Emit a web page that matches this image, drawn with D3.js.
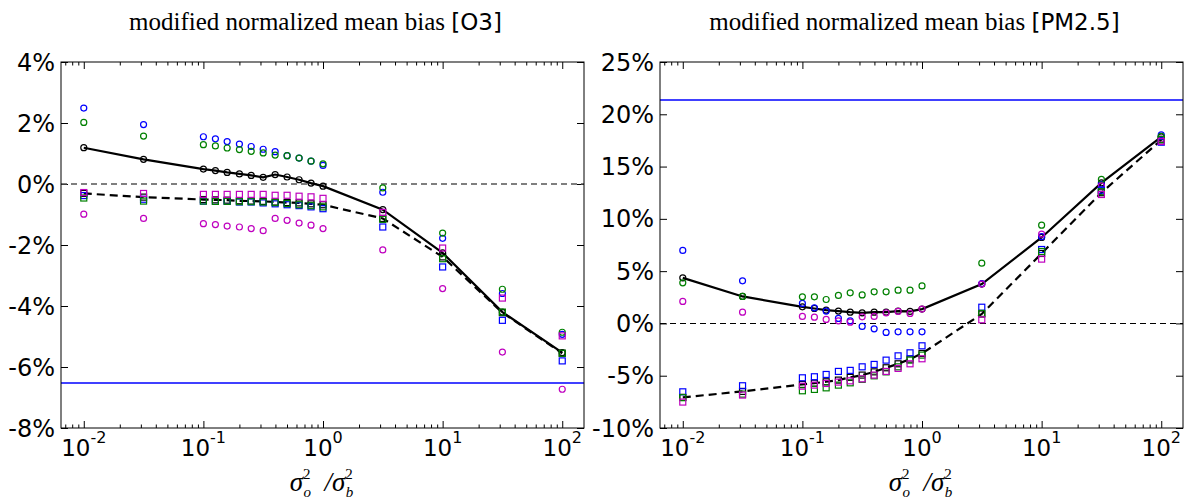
<!DOCTYPE html>
<html>
<head>
<meta charset="utf-8">
<script src="https://cdn.jsdelivr.net/npm/d3@7"></script>
<style>
  body { margin: 0; background: #fff; }
</style>
</head>
<body>
<svg id="chart" width="1185" height="501"></svg>
<script>
// sigma_o^2 / sigma_b^2, shared by every series
const RATIO = [0.01, 0.0316, 0.1, 0.126, 0.158, 0.2, 0.251, 0.316, 0.398, 0.501, 0.631, 0.794, 1, 3.16, 10, 31.6, 100];
const X_TICKS = [0.01, 0.1, 1, 10, 100];
const X_TICK_EXP = ['-2', '-1', '0', '1', '2'];

// O3 panel, values in %
const O3_Y_TICKS = [4, 2, 0, -2, -4, -6, -8];
const O3_MEAN_CIRCLE = [1.19, 0.81, 0.49, 0.44, 0.38, 0.33, 0.28, 0.22, 0.31, 0.23, 0.14, 0.03, -0.07, -0.84, -2.26, -4.20, -5.53];
const O3_MEAN_SQUARE = [-0.31, -0.43, -0.51, -0.52, -0.53, -0.55, -0.56, -0.57, -0.59, -0.61, -0.62, -0.65, -0.68, -1.13, -2.39, -4.22, -5.55];
const O3_BLUE_CIRCLE = [2.49, 1.95, 1.55, 1.48, 1.39, 1.31, 1.23, 1.14, 1.06, 0.93, 0.85, 0.75, 0.61, -0.27, -1.78, -3.59, -4.93];
const O3_GREEN_CIRCLE = [2.02, 1.57, 1.29, 1.25, 1.18, 1.13, 1.07, 1.02, 0.95, 0.93, 0.85, 0.75, 0.66, -0.13, -1.61, -3.45, -4.86];
const O3_MAGENTA_CIRCLE = [-0.99, -1.13, -1.30, -1.33, -1.38, -1.41, -1.46, -1.53, -1.13, -1.19, -1.28, -1.35, -1.46, -2.16, -3.43, -5.51, -6.73];
const O3_BLUE_SQUARE = [-0.38, -0.50, -0.56, -0.57, -0.57, -0.59, -0.59, -0.62, -0.65, -0.68, -0.71, -0.75, -0.81, -1.41, -2.72, -4.47, -5.80];
const O3_GREEN_SQUARE = [-0.46, -0.56, -0.56, -0.57, -0.57, -0.58, -0.58, -0.59, -0.61, -0.64, -0.68, -0.71, -0.75, -1.16, -2.45, -4.20, -5.55];
const O3_MAGENTA_SQUARE = [-0.28, -0.31, -0.34, -0.34, -0.34, -0.34, -0.34, -0.34, -0.37, -0.37, -0.40, -0.42, -0.47, -0.93, -2.10, -3.74, -4.98];
const O3_REF = -6.54;

// PM2.5 panel, values in %
const PM_Y_TICKS = [25, 20, 15, 10, 5, 0, -5, -10];
const PM_MEAN_CIRCLE = [4.36, 2.58, 1.59, 1.43, 1.27, 1.18, 1.08, 1.01, 1.08, 1.08, 1.18, 1.15, 1.37, 3.76, 8.22, 13.44, 17.84];
const PM_MEAN_SQUARE = [-7.07, -6.50, -5.83, -5.71, -5.58, -5.42, -5.16, -4.94, -4.63, -4.24, -3.86, -3.41, -2.87, 0.90, 6.69, 12.50, 17.55];
const PM_BLUE_CIRCLE = [6.98, 4.07, 1.91, 1.49, 1.18, 0.48, 0.25, -0.29, -0.52, -0.86, -0.80, -0.80, -0.80, 3.80, 8.30, 13.30, 18.03];
const PM_GREEN_CIRCLE = [3.88, 2.58, 2.54, 2.54, 2.29, 2.68, 2.93, 2.73, 3.02, 3.02, 3.18, 3.18, 3.59, 5.76, 9.40, 13.77, 17.90];
const PM_MAGENTA_CIRCLE = [2.10, 1.08, 0.67, 0.60, 0.38, 0.25, 0.12, 0.63, 0.67, 1.01, 1.15, 0.96, 1.37, 3.76, 8.54, 13.15, 17.62];
const PM_BLUE_SQUARE = [-6.54, -5.96, -5.20, -5.10, -4.88, -4.59, -4.49, -4.15, -3.92, -3.51, -3.10, -2.81, -2.14, 1.55, 7.07, 12.74, 17.33];
const PM_GREEN_SQUARE = [-7.10, -6.76, -6.44, -6.31, -6.16, -5.90, -5.68, -5.35, -5.01, -4.63, -4.15, -3.51, -3.03, 0.96, 6.88, 12.60, 17.60];
const PM_MAGENTA_SQUARE = [-7.52, -6.85, -6.00, -5.90, -5.74, -5.61, -5.49, -5.30, -4.94, -4.59, -4.30, -3.86, -3.38, 0.35, 6.15, 12.33, 17.40];
const PM_REF = 21.4;

// layout
const PANEL_W = 523;
const PANEL_TOP = 62;
const PANEL_BOTTOM = 428;
const X_DOMAIN = [0.00645, 152];
const TICK_FONT = 'DejaVu Sans, sans-serif';
const SERIF = 'Liberation Serif, serif';

const svg = d3.select('#chart');
svg.append('rect').attr('width', 1185).attr('height', 501).attr('fill', '#fff');

const fmtPct = (d) => `${d}%`;

function drawPanel(p) {
  const left = p.left;
  const right = left + PANEL_W;
  const x = d3.scaleLog().domain(X_DOMAIN).range([left, right]);
  const y = d3.scaleLinear().domain(p.yDomain).range([PANEL_BOTTOM, PANEL_TOP]);
  const g = svg.append('g');

  const clipId = `clip-${p.id}`;
  g.append('clipPath').attr('id', clipId)
    .append('rect')
    .attr('x', left).attr('y', PANEL_TOP)
    .attr('width', PANEL_W).attr('height', PANEL_BOTTOM - PANEL_TOP);

  // minor/major log ticks, inward on all sides
  const allX = x.ticks().filter((d) => d >= X_DOMAIN[0] && d <= X_DOMAIN[1]);
  const isMajor = (d) => Math.abs(Math.log10(d) - Math.round(Math.log10(d))) < 1e-6;
  const minorX = allX.filter((d) => !isMajor(d));

  const addAxis = (axis, tx, ty) => {
    const a = g.append('g').attr('transform', `translate(${tx},${ty})`).call(axis);
    a.select('.domain').remove();
    a.selectAll('line').attr('stroke', '#000').attr('stroke-width', 1);
    a.selectAll('text').remove();
    return a;
  };
  addAxis(d3.axisBottom(x).tickValues(X_TICKS).tickSize(-7), 0, PANEL_BOTTOM);
  addAxis(d3.axisBottom(x).tickValues(minorX).tickSize(-3.5), 0, PANEL_BOTTOM);
  addAxis(d3.axisTop(x).tickValues(X_TICKS).tickSize(-7), 0, PANEL_TOP);
  addAxis(d3.axisTop(x).tickValues(minorX).tickSize(-3.5), 0, PANEL_TOP);
  addAxis(d3.axisLeft(y).tickValues(p.yTicks).tickSize(-7), left, 0);
  addAxis(d3.axisRight(y).tickValues(p.yTicks).tickSize(-7), right, 0);

  // y tick labels
  g.selectAll('.ylab')
    .data(p.yTicks)
    .join('text')
    .attr('class', 'ylab')
    .attr('x', left - 6)
    .attr('y', (d) => y(d))
    .attr('dy', '0.36em')
    .attr('text-anchor', 'end')
    .attr('font-family', TICK_FONT)
    .attr('font-size', 24)
    .text(fmtPct);

  // x tick labels 10^k
  const xl = g.selectAll('.xlab')
    .data(X_TICKS)
    .join('text')
    .attr('class', 'xlab')
    .attr('x', (d) => x(d))
    .attr('y', 456)
    .attr('text-anchor', 'middle')
    .attr('font-family', TICK_FONT)
    .attr('font-size', 23);
  xl.append('tspan').text('10');
  xl.append('tspan')
    .attr('dy', -13)
    .attr('font-size', 16)
    .text((d, i) => X_TICK_EXP[i]);

  const plot = g.append('g').attr('clip-path', `url(#${clipId})`);

  // zero line and reference line
  plot.append('line')
    .attr('x1', left).attr('x2', right)
    .attr('y1', y(0)).attr('y2', y(0))
    .attr('stroke', p.zeroColor)
    .attr('stroke-width', p.zeroWidth)
    .attr('stroke-dasharray', '6,4');
  plot.append('line')
    .attr('x1', left).attr('x2', right)
    .attr('y1', Math.round(y(p.ref))).attr('y2', Math.round(y(p.ref)))
    .attr('stroke', '#0000ff')
    .attr('stroke-width', 1.6);

  const line = d3.line().x((d, i) => x(RATIO[i])).y((d) => y(d));
  plot.append('path')
    .attr('d', line(p.meanCircle))
    .attr('fill', 'none').attr('stroke', '#000').attr('stroke-width', 2.2);
  plot.append('path')
    .attr('d', line(p.meanSquare))
    .attr('fill', 'none').attr('stroke', '#000').attr('stroke-width', 2.2)
    .attr('stroke-dasharray', '8,5');

  const circles = (vals, color) => {
    plot.append('g').selectAll('circle')
      .data(vals)
      .join('circle')
      .attr('cx', (d, i) => x(RATIO[i]))
      .attr('cy', (d) => y(d))
      .attr('r', 3)
      .attr('fill', 'none')
      .attr('stroke', color)
      .attr('stroke-width', 1.2);
  };
  const squares = (vals, color) => {
    const s = 6;
    plot.append('g').selectAll('rect')
      .data(vals)
      .join('rect')
      .attr('x', (d, i) => x(RATIO[i]) - s / 2)
      .attr('y', (d) => y(d) - s / 2)
      .attr('width', s)
      .attr('height', s)
      .attr('fill', 'none')
      .attr('stroke', color)
      .attr('stroke-width', 1.2);
  };

  circles(p.meanCircle, '#000');
  squares(p.meanSquare, '#000');
  circles(p.blueCircle, '#0000ff');
  circles(p.greenCircle, '#008000');
  circles(p.magentaCircle, '#bf00bf');
  squares(p.blueSquare, '#0000ff');
  squares(p.greenSquare, '#008000');
  squares(p.magentaSquare, '#bf00bf');

  // frame
  g.append('rect')
    .attr('x', left).attr('y', PANEL_TOP)
    .attr('width', PANEL_W).attr('height', PANEL_BOTTOM - PANEL_TOP)
    .attr('fill', 'none').attr('stroke', '#000').attr('stroke-width', 1);

  // title: serif words + sans species name
  const cx = left + PANEL_W / 2 - 7;
  const title = g.append('text')
    .attr('x', cx).attr('y', 30)
    .attr('text-anchor', 'middle')
    .attr('font-size', 25);
  title.append('tspan').attr('font-family', SERIF).text('modified normalized mean bias ');
  title.append('tspan').attr('font-family', TICK_FONT).attr('font-size', 23).text(`[${p.species}]`);

  // x axis label: sigma_o^2 / sigma_b^2, scripts stacked
  const xlab = g.append('text')
    .attr('x', cx + 6).attr('y', 491)
    .attr('text-anchor', 'middle')
    .attr('font-family', SERIF)
    .attr('font-style', 'italic')
    .attr('font-size', 27);
  xlab.append('tspan').text('σ');
  xlab.append('tspan').attr('font-size', 15).attr('font-style', 'normal').attr('dy', -12).text('2');
  xlab.append('tspan').attr('font-size', 15).attr('dx', -7).attr('dy', 18).text('o');
  xlab.append('tspan').attr('dy', -6).text('\u2002/σ');
  xlab.append('tspan').attr('font-size', 15).attr('font-style', 'normal').attr('dy', -12).text('2');
  xlab.append('tspan').attr('font-size', 15).attr('dx', -7).attr('dy', 18).text('b');
}

drawPanel({
  id: 'o3',
  left: 61,
  species: 'O3',
  yDomain: [-8, 4],
  yTicks: O3_Y_TICKS,
  ref: O3_REF,
  zeroColor: '#555',
  zeroWidth: 1.6,
  meanCircle: O3_MEAN_CIRCLE,
  meanSquare: O3_MEAN_SQUARE,
  blueCircle: O3_BLUE_CIRCLE,
  greenCircle: O3_GREEN_CIRCLE,
  magentaCircle: O3_MAGENTA_CIRCLE,
  blueSquare: O3_BLUE_SQUARE,
  greenSquare: O3_GREEN_SQUARE,
  magentaSquare: O3_MAGENTA_SQUARE,
});

drawPanel({
  id: 'pm25',
  left: 660,
  species: 'PM2.5',
  yDomain: [-10, 25],
  yTicks: PM_Y_TICKS,
  ref: PM_REF,
  zeroColor: '#000',
  zeroWidth: 1.1,
  meanCircle: PM_MEAN_CIRCLE,
  meanSquare: PM_MEAN_SQUARE,
  blueCircle: PM_BLUE_CIRCLE,
  greenCircle: PM_GREEN_CIRCLE,
  magentaCircle: PM_MAGENTA_CIRCLE,
  blueSquare: PM_BLUE_SQUARE,
  greenSquare: PM_GREEN_SQUARE,
  magentaSquare: PM_MAGENTA_SQUARE,
});
</script>
</body>
</html>
